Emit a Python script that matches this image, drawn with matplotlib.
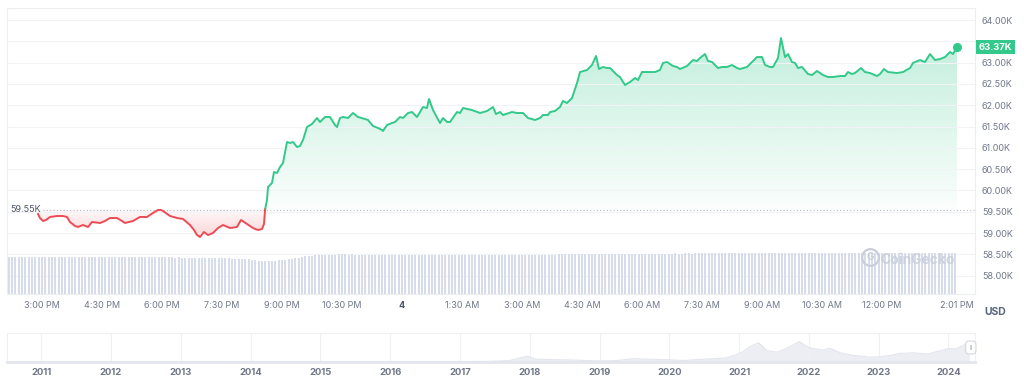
import numpy as np
import matplotlib
matplotlib.use("Agg")
import matplotlib.pyplot as plt
import matplotlib.colors as mcolors
import matplotlib.transforms as mtrans
from matplotlib.path import Path

plt.rcParams['font.family'] = ['Inter', 'DejaVu Sans']

# price line: hours relative to midnight (Apr 4), price in USD
hours = [
    -9.100, -9.050, -8.975, -8.900, -8.800, -8.625, -8.475, -8.375, -8.300, -8.175,
    -8.100, -7.975, -7.850, -7.750, -7.550, -7.425, -7.300, -7.125, -7.000, -6.925,
    -6.725, -6.550, -6.375, -6.225, -6.100, -6.025, -5.975, -5.800, -5.625, -5.475,
    -5.300, -5.200, -5.125, -5.050, -4.950, -4.850, -4.725, -4.600, -4.475, -4.300,
    -4.125, -4.025, -3.875, -3.725, -3.600, -3.500, -3.450, -3.425, -3.375, -3.350,
    -3.250, -3.200, -3.125, -3.050, -2.975, -2.875, -2.800, -2.725, -2.625, -2.550,
    -2.475, -2.375, -2.250, -2.125, -2.050, -1.925, -1.800, -1.675, -1.625, -1.550,
    -1.475, -1.350, -1.225, -1.100, -0.925, -0.850, -0.725, -0.600, -0.500, -0.475,
    -0.375, -0.250, -0.175, -0.050, 0.025, 0.150, 0.250, 0.375, 0.525, 0.625,
    0.675, 0.775, 0.950, 1.025, 1.125, 1.200, 1.375, 1.450, 1.525, 1.750,
    1.950, 2.125, 2.275, 2.350, 2.450, 2.525, 2.750, 2.875, 3.025, 3.150,
    3.325, 3.450, 3.525, 3.650, 3.700, 3.825, 3.950, 4.025, 4.125, 4.250,
    4.375, 4.450, 4.625, 4.700, 4.750, 4.850, 4.925, 5.025, 5.125, 5.200,
    5.375, 5.450, 5.575, 5.700, 5.825, 5.900, 6.000, 6.200, 6.325, 6.450,
    6.525, 6.625, 6.775, 6.875, 6.950, 7.125, 7.275, 7.375, 7.450, 7.575,
    7.650, 7.750, 7.900, 8.000, 8.125, 8.250, 8.375, 8.450, 8.625, 8.750,
    8.875, 9.000, 9.075, 9.200, 9.275, 9.400, 9.475, 9.575, 9.650, 9.750,
    9.825, 9.900, 10.000, 10.150, 10.250, 10.375, 10.450, 10.525, 10.650, 10.775,
    10.950, 11.075, 11.150, 11.250, 11.325, 11.475, 11.575, 11.700, 11.875, 11.950,
    12.050, 12.150, 12.375, 12.525, 12.700, 12.775, 12.950, 13.075, 13.200, 13.325,
    13.450, 13.575, 13.700, 13.775, 13.875,
]
price = [
    59446, 59352, 59282, 59305, 59376, 59399, 59399, 59376, 59258, 59164,
    59141, 59188, 59141, 59258, 59235, 59282, 59352, 59352, 59282, 59235,
    59282, 59376, 59376, 59470, 59540, 59540, 59517, 59399, 59352, 59329,
    59188, 59070, 58953, 58906, 59023, 58953, 59000, 59117, 59188, 59117,
    59141, 59305, 59211, 59117, 59070, 59094, 59211, 59540, 59775, 60080,
    60174, 60432, 60408, 60549, 60643, 61136, 61113, 61136, 61019, 61042,
    61183, 61488, 61559, 61700, 61606, 61723, 61723, 61535, 61488, 61700,
    61723, 61700, 61817, 61723, 61676, 61653, 61512, 61465, 61418, 61394,
    61535, 61582, 61606, 61723, 61700, 61817, 61840, 61723, 61958, 61934,
    62146, 61887, 61582, 61700, 61606, 61606, 61840, 61817, 61934, 61887,
    61817, 61864, 61958, 61793, 61840, 61770, 61840, 61817, 61817, 61700,
    61653, 61700, 61770, 61770, 61840, 61864, 61958, 62099, 62052, 62169,
    62521, 62779, 62826, 62897, 62944, 63155, 62850, 62897, 62873, 62873,
    62709, 62662, 62474, 62545, 62638, 62592, 62779, 62779, 62779, 62826,
    62991, 63014, 62920, 62897, 62850, 62920, 63061, 63038, 63108, 63202,
    63038, 63014, 62873, 62897, 62897, 62944, 62873, 62850, 62897, 63014,
    63131, 63131, 62944, 62897, 62897, 63108, 63577, 63131, 63202, 63014,
    62991, 62873, 62897, 62732, 62709, 62803, 62756, 62709, 62662, 62662,
    62685, 62685, 62779, 62732, 62756, 62873, 62779, 62756, 62685, 62732,
    62850, 62779, 62756, 62779, 62873, 62991, 63061, 63014, 63202, 63061,
    63085, 63131, 63249, 63202, 63366,
]
baseline = 59550
baseline_label = '59.55K'
last_label = '63.37K'

# 5-minute volume bars (billions USD), first bar at 14:10
vol_start = -(9 + 50 / 60)
volume = [
    27.6, 27.5, 27.7, 27.5, 27.4, 27.6, 27.5, 27.6, 27.4, 27.5, 27.6, 27.5,
    27.5, 27.4, 27.6, 27.5, 27.5, 27.3, 27.4, 27.5, 27.6, 27.4, 27.5, 27.4,
    27.4, 27.5, 27.3, 27.4, 27.5, 27.4, 27.3, 27.4, 27.5, 27.3, 27.4, 27.3,
    27.3, 27.4, 27.2, 27.3, 27.4, 27.3, 27.2, 27.3, 27.4, 27.2, 27.3, 27.2,
    27.2, 27.3, 27.1, 27.2, 27.1, 27.0, 27.1, 27.0, 26.9, 27.0, 26.9, 26.8,
    26.8, 26.7, 26.6, 26.6, 26.5, 26.4, 26.4, 26.3, 26.2, 26.1, 26.0, 25.9,
    25.7, 25.4, 25.1, 24.8, 24.6, 24.5, 24.5, 24.6, 24.8, 25.0, 25.3, 25.6,
    25.9, 26.3, 26.7, 27.1, 27.5, 27.9, 28.2, 28.5, 28.7, 28.9, 29.0, 29.1,
    29.2, 29.3, 29.3, 29.4, 29.4, 29.4, 29.3, 29.4, 29.3, 29.3, 29.2, 29.3,
    29.2, 29.1, 29.2, 29.1, 29.0, 29.1, 29.0, 29.1, 29.0, 28.9, 29.0, 28.9,
    28.9, 28.8, 28.8, 28.9, 28.8, 28.7, 28.8, 28.8, 28.9, 28.8, 28.9, 28.9,
    29.0, 28.9, 29.0, 29.0, 28.9, 29.0, 29.0, 29.1, 29.0, 29.0, 29.1, 29.0,
    29.0, 29.1, 29.0, 28.9, 28.9, 28.8, 28.8, 28.9, 28.8, 28.8, 28.9, 28.8,
    28.9, 28.9, 29.0, 29.0, 29.1, 29.1, 29.2, 29.3, 29.3, 29.4, 29.4, 29.5,
    29.5, 29.6, 29.6, 29.7, 29.7, 29.7, 29.8, 29.7, 29.8, 29.8, 29.7, 29.8,
    29.8, 29.8, 29.9, 29.8, 29.9, 29.9, 29.8, 29.9, 29.9, 30.0, 29.9, 30.0,
    30.0, 30.0, 30.1, 30.0, 30.1, 30.1, 30.0, 30.1, 30.2, 30.1, 30.1, 30.2,
    30.2, 30.1, 30.2, 30.2, 30.3, 30.2, 30.3, 30.2, 30.3, 30.3, 30.2, 30.3,
    30.3, 30.3, 30.2, 30.3, 30.3, 30.4, 30.3, 30.3, 30.4, 30.3, 30.4, 30.3,
    30.4, 30.3, 30.4, 30.4, 30.3, 30.4, 30.4, 30.5, 30.4, 30.4, 30.5, 30.4,
    30.4, 30.5, 30.4, 30.4, 30.5, 30.4, 30.4, 30.5, 30.4, 30.5, 30.4, 30.4,
    30.5, 30.4, 30.5, 30.4, 30.4, 30.5, 30.4, 30.5, 30.4, 30.4, 30.5, 30.4,
    30.4, 30.5, 30.4, 30.4, 30.5, 30.4, 30.4, 30.5, 30.4, 30.4, 30.5, 30.4,
    30.5, 30.4, 30.4, 30.5, 30.4, 30.4, 30.5, 30.4, 30.4,
]

time_ticks = [-9, -7.5, -6, -4.5, -3, -1.5, 0, 1.5, 3, 4.5, 6, 7.5, 9, 10.5, 12, 13.875]
time_labels = ['3:00 PM', '4:30 PM', '6:00 PM', '7:30 PM', '9:00 PM', '10:30 PM', '4',
               '1:30 AM', '3:00 AM', '4:30 AM', '6:00 AM', '7:30 AM', '9:00 AM',
               '10:30 AM', '12:00 PM', '2:01 PM']
price_ticks = [58000, 58500, 59000, 59500, 60000, 60500, 61000, 61500,
               62000, 62500, 63000, 63500, 64000]

# navigator: full history (year, USD)
nav_years = [2010.55, 2011.0, 2011.3, 2011.45, 2011.7, 2012.0, 2012.5, 2013.0, 2013.28, 2013.5,
             2013.9, 2014.1, 2014.5, 2015.0, 2015.5, 2016.0, 2016.5, 2017.0, 2017.4, 2017.7,
             2017.96, 2018.1, 2018.3, 2018.6, 2018.95, 2019.2, 2019.5, 2019.8, 2020.0, 2020.2,
             2020.5, 2020.8, 2020.95, 2021.05, 2021.15, 2021.28, 2021.4, 2021.55, 2021.7, 2021.86,
             2022.0, 2022.2, 2022.3, 2022.45, 2022.6, 2022.86, 2023.0, 2023.2, 2023.3, 2023.5,
             2023.7, 2023.85, 2024.0, 2024.1, 2024.2, 2024.3]
nav_price = [0.07, 0.3, 0.9, 18, 5, 5, 6.7, 13, 140, 90,
             1000, 800, 600, 300, 250, 430, 650, 1000, 2000, 4300,
             19000, 9000, 8000, 6500, 3600, 4000, 11000, 8300, 7200, 5000,
             9200, 13000, 23000, 33000, 50000, 63000, 37000, 32000, 47000, 67000,
             47000, 39000, 45000, 30000, 23000, 16000, 16600, 23000, 28000, 30000,
             26000, 35000, 44000, 43000, 52000, 69000]
year_ticks = list(range(2011, 2025))

GREEN = '#32c98a'
RED = '#ee4b55'
TXT = '#6f7788'
EDGE = '#eceef2'


def split_at_base(x, y, base):
    xs, ys = [x[0]], [y[0]]
    for i in range(1, len(x)):
        if (y[i - 1] - base) * (y[i] - base) < 0:
            f = (base - y[i - 1]) / (y[i] - y[i - 1])
            xs.append(x[i - 1] + f * (x[i] - x[i - 1]))
            ys.append(base)
        xs.append(x[i])
        ys.append(y[i])
    return np.array(xs, float), np.array(ys, float)


def gradient_fill(ax, coll, color, a_top, a_bot, y_top, y_bot):
    paths = coll.get_paths()
    coll.remove()
    if not paths:
        return
    clip = Path.make_compound_path(*paths)
    img = np.zeros((256, 1, 4))
    img[:, 0, :3] = mcolors.to_rgb(color)
    img[:, 0, 3] = np.linspace(a_top, a_bot, 256)
    x0, x1 = ax.get_xlim()
    im = ax.imshow(img, extent=[x0, x1, y_bot, y_top], aspect='auto',
                   origin='upper', zorder=1.5, interpolation='bilinear')
    im.set_clip_path(clip, transform=ax.transData)


fig = plt.figure(figsize=(10.24, 3.85), dpi=100)
W, H = 1024, 385
pos = [7 / W, 1 - 294 / H, 968 / W, 286 / H]

ax = fig.add_axes(pos, zorder=0)
ax.set_xlim(-9.875, 14.325)
ax.set_ylim(57568, 64282)

xs, ys = split_at_base(hours, price, baseline)
up = np.where(ys >= baseline, ys, np.nan)
dn = np.where(ys <= baseline, ys, np.nan)

g = ax.fill_between(xs, ys, baseline, where=ys >= baseline, lw=0)
gradient_fill(ax, g, GREEN, 0.30, 0.02, max(price), baseline)
r = ax.fill_between(xs, ys, baseline, where=ys <= baseline, lw=0)
gradient_fill(ax, r, RED, 0.03, 0.24, baseline, min(price))
ax.set_xlim(-9.875, 14.325)
ax.set_ylim(57568, 64282)

ax.plot(xs, up, color=GREEN, lw=1.4, zorder=3, solid_joinstyle='round')
ax.plot(xs, dn, color=RED, lw=1.4, zorder=3, solid_joinstyle='round')
ax.plot(hours[-1], price[-1], 'o', ms=5.5, color=GREEN, zorder=4)

ax.axhline(baseline, xmin=0.037, xmax=1, color='#b7bdc9', lw=0.8, ls=(0, (1, 2)), zorder=2)
ax.text(0.003, baseline, baseline_label, transform=mtrans.blended_transform_factory(ax.transAxes, ax.transData),
        va='center', ha='left', fontsize=6.5, color='#4b5263', zorder=4)

ax.yaxis.tick_right()
ax.set_yticks(price_ticks)
ax.set_yticklabels(['' if v == 63500 else f'{v / 1000:.2f}K' for v in price_ticks])
ax.set_xticks(time_ticks)
ax.set_xticklabels(time_labels)
ax.tick_params(axis='both', length=0, labelsize=6.5, labelcolor=TXT)
ax.tick_params(axis='y', pad=5)
ax.tick_params(axis='x', pad=5)
for lab in ax.get_xticklabels():
    if lab.get_text() == '4':
        lab.set_fontweight('bold')
        lab.set_color('#4b5263')
ax.grid(axis='y', color='#f1f3f6', lw=0.8, zorder=0)
ax.grid(axis='x', visible=False)
for s in ax.spines.values():
    s.set_color(EDGE)
    s.set_linewidth(0.8)

ax.text(1.0035, price[-1], last_label, transform=mtrans.blended_transform_factory(ax.transAxes, ax.transData),
        va='center', ha='left', fontsize=6.8, fontweight='bold', color='white', zorder=6, clip_on=False,
        bbox=dict(boxstyle='square,pad=0.28', fc=GREEN, ec='none'))

# volume bars on their own scale
axv = fig.add_axes(pos, zorder=1)
axv.patch.set_alpha(0)
vt = vol_start + np.arange(len(volume)) / 12
axv.bar(vt, volume, width=0.6 / 12, color='#d6dcea', lw=0)
axv.set_xlim(ax.get_xlim())
axv.set_ylim(0, 212.6)
axv.axis('off')
axv.plot(0.8915, 0.13, 'o', ms=12, mfc='none', mec='#c8cedb', mew=1.6, transform=axv.transAxes)
axv.text(0.8915, 0.13, 'G', transform=axv.transAxes, ha='center', va='center',
         fontsize=7, fontweight='bold', color='#c8cedb')
axv.text(0.902, 0.12, 'CoinGecko', transform=axv.transAxes, ha='left', va='center',
         fontsize=10, fontweight='bold', color='#c8cedb', alpha=0.85)

fig.text(995 / W, 1 - 312 / H, 'USD', ha='center', va='center', fontsize=7.5,
         fontweight='bold', color='#58667e')

# navigator
nav = fig.add_axes([7 / W, 1 - 362 / H, 968 / W, 29 / H])
nav.fill_between(nav_years, nav_price, 0, color='#eceef3', lw=0)
nav.plot(nav_years, nav_price, color='#e2e5ec', lw=0.8)
nav.set_xlim(2010.51, 2024.38)
nav.set_ylim(0, 95000)
nav.set_xticks(year_ticks)
nav.set_xticklabels([str(y) for y in year_ticks])
nav.set_yticks([])
nav.grid(axis='x', color='#eef0f3', lw=0.8)
nav.tick_params(axis='x', length=0, pad=4, labelsize=6.8, labelcolor=TXT)
for lab in nav.get_xticklabels():
    lab.set_fontweight('bold')
for s in nav.spines.values():
    s.set_color('#eef0f3')
    s.set_linewidth(0.8)
nav.spines['bottom'].set_color('#e3e6ec')
nav.spines['bottom'].set_linewidth(2)
nav.annotate('ll', xy=(1.0, 0.5), xycoords='axes fraction', xytext=(-3, 0), textcoords='offset points',
             ha='center', va='center', fontsize=5, color='#a0a8b6', annotation_clip=False,
             bbox=dict(boxstyle='round,pad=0.5', fc='white', ec='#d3d8e1', lw=0.8))

fig.savefig('out.png', dpi=100, facecolor='white')
